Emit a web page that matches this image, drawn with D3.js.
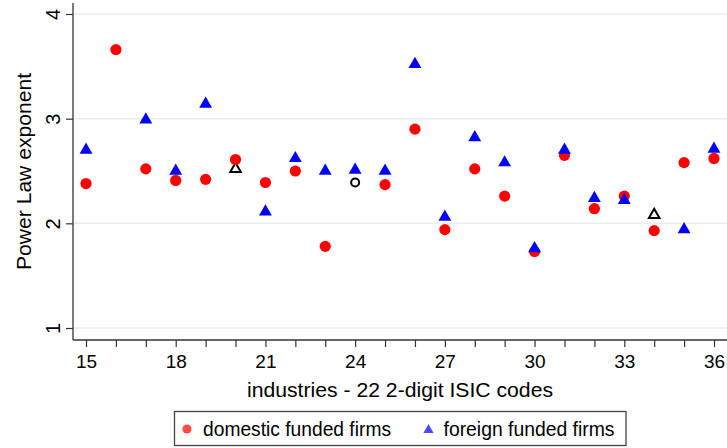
<!DOCTYPE html>
<html>
<head>
<meta charset="utf-8">
<script src="https://cdn.jsdelivr.net/npm/d3@7/dist/d3.min.js"></script>
<style>
  html, body { margin: 0; padding: 0; background: #fff; }
  svg { display: block; font-family: "Liberation Sans", Arial, sans-serif; }
</style>
</head>
<body>
<svg id="chart" width="727" height="448"></svg>
<script>
// 2-digit ISIC industry codes
const industries = [15, 16, 17, 18, 19, 20, 21, 22, 23, 24, 25, 26, 27, 28, 29, 30, 31, 32, 33, 34, 35, 36];
// Power-law exponent, domestic funded firms
const domestic = [2.38, 3.66, 2.52, 2.41, 2.42, 2.61, 2.39, 2.50, 1.78, 2.39, 2.37, 2.90, 1.94, 2.52, 2.26, 1.73, 2.65, 2.14, 2.26, 1.93, 2.58, 2.62];
// Power-law exponent, foreign funded firms
const foreign = [2.71, null, 3.00, 2.51, 3.15, 2.53, 2.12, 2.63, 2.51, 2.52, 2.51, 3.53, 2.07, 2.83, 2.59, 1.77, 2.71, 2.25, 2.23, 2.09, 1.95, 2.72];
// Estimates shown as hollow black markers (1 = hollow)
const domesticHollow = [0, 0, 0, 0, 0, 0, 0, 0, 0, 1, 0, 0, 0, 0, 0, 0, 0, 0, 0, 0, 0, 0];
const foreignHollow  = [0, 0, 0, 0, 0, 1, 0, 0, 0, 0, 0, 0, 0, 0, 0, 0, 0, 0, 0, 1, 0, 0];
const xTickLabels = [15, 18, 21, 24, 27, 30, 33, 36];
const yTickLabels = [1, 2, 3, 4];
const seriesNames = ["domestic funded firms", "foreign funded firms"];

const svg = d3.select("#chart");
const axisColor = "#333";
const gridColor = "#e6eef0";

const x = d3.scaleLinear().domain([14.565, 36.435]).range([73, 727]);
const y = d3.scaleLinear().domain([1, 4]).range([328, 14]);
const yBottom = 340, yTop = 3;

// horizontal grid lines
svg.append("g").selectAll("line").data(yTickLabels).join("line")
  .attr("x1", 74).attr("x2", 727)
  .attr("y1", d => y(d)).attr("y2", d => y(d))
  .attr("stroke", gridColor).attr("stroke-width", 1.5);

// y axis
const yAxis = svg.append("g").attr("transform", "translate(73,0)")
  .call(d3.axisLeft(y).tickValues(yTickLabels).tickSize(7).tickPadding(11).tickFormat(d3.format("d")));
yAxis.select(".domain").remove();
yAxis.append("line").attr("x1", 0).attr("x2", 0).attr("y1", yTop).attr("y2", yBottom)
  .attr("stroke", axisColor).attr("stroke-width", 1.3);
yAxis.selectAll(".tick line").attr("stroke", axisColor).attr("stroke-width", 1.2);
yAxis.selectAll(".tick text")
  .attr("fill", "#000").attr("font-size", 20)
  .attr("text-anchor", "middle")
  .attr("x", null).attr("dy", null)
  .attr("transform", "translate(-13,0) rotate(-90)");

// x axis
const xAxis = svg.append("g").attr("transform", `translate(0,${yBottom})`)
  .call(d3.axisBottom(x).tickValues(industries).tickSize(7).tickPadding(8)
    .tickFormat(d => xTickLabels.includes(d) ? d : ""));
xAxis.select(".domain").remove();
xAxis.append("line").attr("x1", 73).attr("x2", 727).attr("y1", 0).attr("y2", 0)
  .attr("stroke", axisColor).attr("stroke-width", 1.3);
xAxis.selectAll(".tick line").attr("stroke", axisColor).attr("stroke-width", 1.2);
xAxis.selectAll(".tick text").attr("fill", "#000").attr("font-size", 19);

// axis titles
svg.append("text")
  .attr("transform", "translate(31,171.5) rotate(-90)")
  .attr("text-anchor", "middle").attr("font-size", 21).attr("fill", "#000")
  .attr("textLength", 197).attr("lengthAdjust", "spacingAndGlyphs")
  .text("Power Law exponent");
svg.append("text")
  .attr("x", 400).attr("y", 396.5)
  .attr("text-anchor", "middle").attr("font-size", 20).attr("fill", "#000")
  .attr("textLength", 306).attr("lengthAdjust", "spacingAndGlyphs")
  .text("industries - 22 2-digit ISIC codes");

const tri = d3.symbol().type(d3.symbolTriangle);
const rows = industries.map((c, i) => ({
  code: c, dom: domestic[i], fgn: foreign[i],
  domHollow: domesticHollow[i] === 1, fgnHollow: foreignHollow[i] === 1
}));

const marks = svg.append("g");
// hollow (black) estimates underneath
marks.selectAll(".hc").data(rows.filter(r => r.dom != null && r.domHollow)).join("circle")
  .attr("cx", d => x(d.code)).attr("cy", d => y(d.dom)).attr("r", 4)
  .attr("fill", "none").attr("stroke", "#000").attr("stroke-width", 2);
marks.selectAll(".ht").data(rows.filter(r => r.fgn != null && r.fgnHollow)).join("path")
  .attr("transform", d => `translate(${x(d.code)},${y(d.fgn) + 1})`)
  .attr("d", tri.size(48)())
  .attr("fill", "none").attr("stroke", "#000").attr("stroke-width", 2);
// domestic: red circles
marks.selectAll(".dc").data(rows.filter(r => r.dom != null && !r.domHollow)).join("circle")
  .attr("cx", d => x(d.code)).attr("cy", d => y(d.dom)).attr("r", 5.6)
  .attr("fill", "#ff0000");
// foreign: blue triangles
marks.selectAll(".ft").data(rows.filter(r => r.fgn != null && !r.fgnHollow)).join("path")
  .attr("transform", d => `translate(${x(d.code)},${y(d.fgn) + 1})`)
  .attr("d", tri.size(72)())
  .attr("fill", "#0000ff");

// legend
const lg = svg.append("g");
lg.append("rect").attr("x", 174.5).attr("y", 411.5).attr("width", 451.5).attr("height", 34)
  .attr("fill", "#fff").attr("stroke", "#444").attr("stroke-width", 1.3);
lg.append("circle").attr("cx", 187).attr("cy", 429).attr("r", 4.6).attr("fill", "#ff4a4a");
lg.append("text").attr("x", 203).attr("y", 435.5).attr("font-size", 19.5).attr("fill", "#000")
  .attr("textLength", 188).attr("lengthAdjust", "spacingAndGlyphs").text(seriesNames[0]);
lg.append("path").attr("transform", "translate(428.5,430)").attr("d", tri.size(45)()).attr("fill", "#4a4aff");
lg.append("text").attr("x", 443.5).attr("y", 435.5).attr("font-size", 19.5).attr("fill", "#000")
  .attr("textLength", 171).attr("lengthAdjust", "spacingAndGlyphs").text(seriesNames[1]);
</script>
</body>
</html>
